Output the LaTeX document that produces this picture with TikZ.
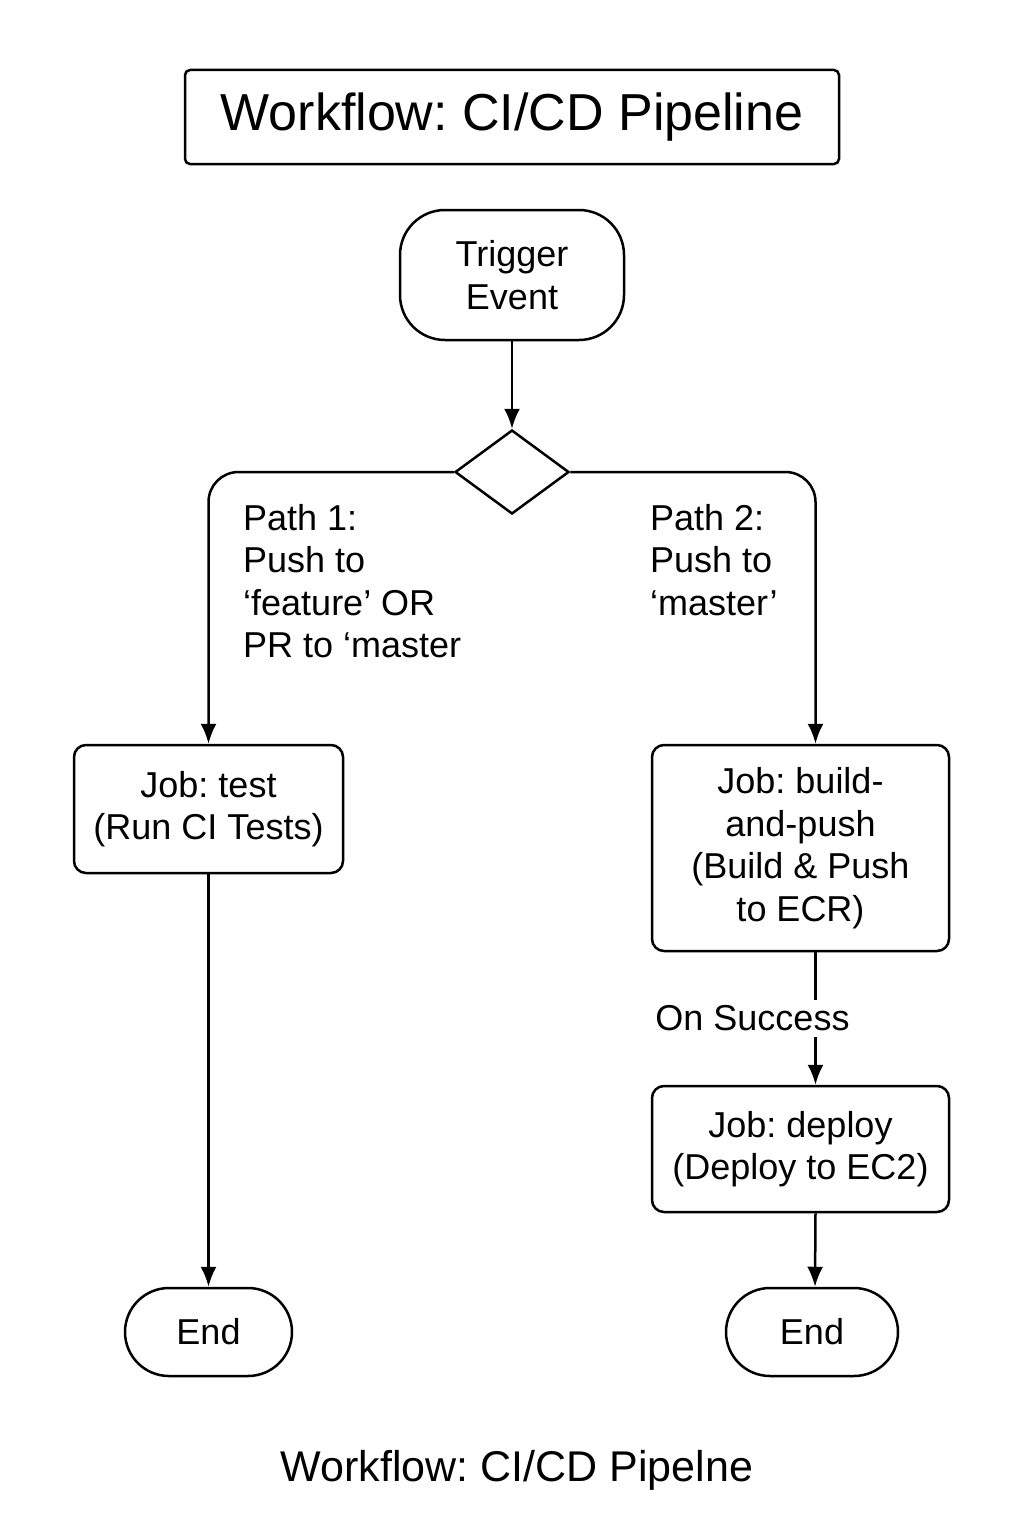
\documentclass[tikz,border=0pt]{standalone}
\usepackage{fontspec}
\setmainfont{Liberation Sans}
\usetikzlibrary{arrows.meta,shapes.geometric}
\frenchspacing
\begin{document}
\frenchspacing
\begin{tikzpicture}[x=1pt,y=-1pt,
  base/.style={draw=black, line width=2.5pt, inner sep=0pt, align=center,
    font=\fontsize{36}{42.5}\selectfont},
  jobbox/.style={base, rounded corners=12pt},
  pill/.style={base, rounded corners=44pt},
  lbl/.style={inner sep=0pt, align=left, font=\fontsize{36}{42.3}\selectfont},
  conn/.style={line width=2.5pt, draw=black, -{Latex[width=16pt,length=20pt]}}
]
\useasboundingbox[fill=white] (0,0) rectangle (1024,1536);

\node[base, rounded corners=5pt, minimum width=654pt, minimum height=94pt,
  font=\fontsize{52}{60}\selectfont] (title) at (512,117) {Workflow: CI/CD Pipeline};

\node[base, rounded corners=45pt, minimum width=224pt, minimum height=130pt] (trig) at (512,275) {Trigger\\Event};

\node[draw=black, line width=2.5pt, shape=diamond, inner sep=0pt,
  minimum width=114pt, minimum height=84pt] (dec) at (512,472) {};

\node[jobbox, minimum width=269pt, minimum height=128pt] (test) at (208.5,809) {Job: test\\(Run CI Tests)};
\node[pill, minimum width=167pt, minimum height=88pt] (endL) at (208.5,1332) {End};

\node[jobbox, minimum width=297pt, minimum height=206pt] (build) at (800.5,848) {Job: build-\\and-push\\(Build \& Push\\to ECR)};
\node[jobbox, minimum width=297pt, minimum height=126pt] (deploy) at (800.5,1149) {Job: deploy\\(Deploy to EC2)};
\node[pill, minimum width=172pt, minimum height=88pt] (endR) at (812,1332) {End};

\node[lbl, anchor=west] (p1) at (243,581) {Path 1:\\Push to\\‘feature’ OR\\PR to ‘master};
\node[lbl, anchor=west] (p2) at (650,560) {Path 2:\\Push to\\‘master’};

\node[inner sep=0pt, font=\fontsize{43}{50}\selectfont] (cap) at (517,1470) {Workflow: CI/CD Pipelne};

\draw[conn] (trig.south) -- (dec.north);
\draw[conn, rounded corners=30pt] (dec.west) -| (test.north);
\draw[conn, rounded corners=30pt] (dec.east) -| ([xshift=15pt]build.north);
\draw[conn] (test.south) -- (endL.north);
\draw[conn] ([xshift=15pt]build.south) -- node[pos=0.5, xshift=-63pt, fill=white, inner sep=6pt,
  font=\fontsize{36}{42}\selectfont] (ons) {On Success} ([xshift=15pt]deploy.north);
\draw[conn] ([xshift=15pt]deploy.south) -- ([xshift=3pt]endR.north);
\end{tikzpicture}
\end{document}
